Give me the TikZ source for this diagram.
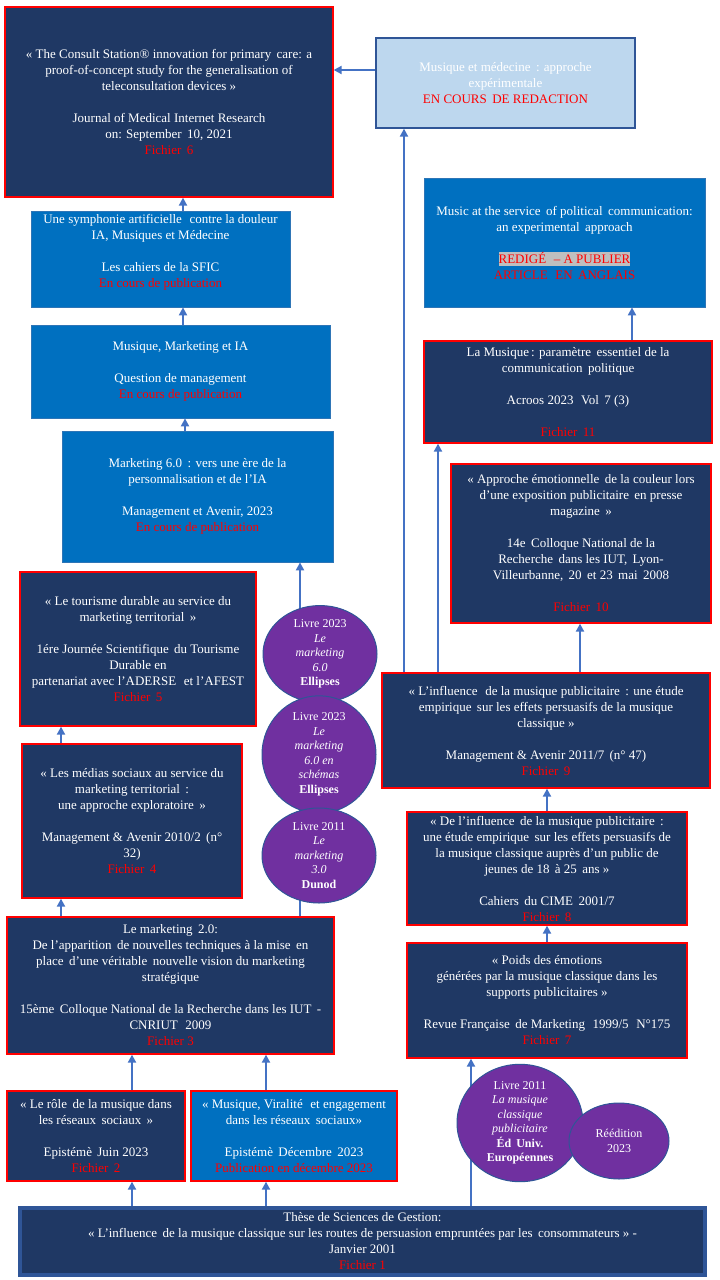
\documentclass[tikz,border=0pt]{standalone}
\usepackage{fontspec}
\setmainfont{Liberation Serif}
\usetikzlibrary{arrows.meta,shapes.geometric}
\definecolor{navy}{HTML}{1F3864}
\definecolor{midblue}{HTML}{0070C0}
\definecolor{lightblue}{HTML}{BDD7EE}
\definecolor{boxred}{HTML}{FF0000}
\definecolor{arrowblue}{HTML}{4472C4}
\definecolor{bubblepurple}{HTML}{7030A0}
\definecolor{edgeblue}{HTML}{2F5597}
\definecolor{thinblue}{HTML}{2E75B6}
\definecolor{hlgray}{HTML}{BFBFBF}
\newcommand{\redtxt}[1]{\textcolor{boxred}{#1}}
\newcommand{\hlred}[1]{{\setlength{\fboxsep}{0pt}\colorbox{hlgray}{\rule[-3pt]{0pt}{14pt}\redtxt{#1}}}}
\tikzset{
  pubbox/.style={rectangle, inner sep=0pt, align=center, text=white,
    font=\fontsize{13}{16}\selectfont},
  navybox/.style={pubbox, fill=navy, draw=boxred, line width=1.3pt},
  bluebox/.style={pubbox, fill=midblue, draw=thinblue, line width=0.8pt},
  redbluebox/.style={pubbox, fill=midblue, draw=boxred, line width=1.3pt},
  palebox/.style={pubbox, fill=lightblue, draw=edgeblue, line width=1.3pt},
  thesisbox/.style={pubbox, fill=navy, draw=edgeblue, line width=3.5pt},
  bubble/.style={ellipse, inner sep=0pt, fill=bubblepurple, draw=edgeblue,
    line width=1pt, text=white, align=center, font=\fontsize{12}{14.5}\selectfont},
  arr/.style={draw=arrowblue, line width=2.2pt, -{Triangle[length=8pt,width=8pt]}},
  plainline/.style={draw=arrowblue, line width=2.2pt},
}
\begin{document}
\begin{tikzpicture}[x=1pt,y=-1pt]
\useasboundingbox (0,0) rectangle (720,1280);
\fill[white] (0,0) rectangle (720,1280);

% ---------- boxes ----------
\node[navybox, minimum width=328pt, minimum height=190pt] (A) at (169,102)
 {« The Consult Station® innovation for primary\, care: a\\
  proof-of-concept study for the generalisation of\\
  teleconsultation devices »\\[16pt]
  Journal of Medical Internet Research\\
  on: September\, 10, 2021\\
  \redtxt{Fichier\, 6}};

\node[palebox, minimum width=259pt, minimum height=90pt] (B) at (505.5,83)
 {Musique et médecine\, : approche\\
  expérimentale\\
  \redtxt{EN COURS\, DE REDACTION}};

\node[bluebox, minimum width=259pt, minimum height=96pt] (C) at (160.5,259)
 {Une symphonie artificielle\,\, contre la douleur\\
  IA, Musiques et Médecine\\[16pt]
  Les cahiers de la SFIC\\
  \redtxt{En cours de publication}\\
  ~};

\node[bluebox, minimum width=299pt, minimum height=93pt] (D) at (180.5,371.5)
 {Musique, Marketing et IA\\[16pt]
  Question de management\\
  \redtxt{En cours de publication}};

\node[bluebox, minimum width=271pt, minimum height=131pt] (E) at (197.5,496.5)
 {Marketing 6.0\, : vers une ère de la\\
  personnalisation et de l’IA\\[16pt]
  Management et Avenir, 2023\\
  \redtxt{En cours de publication}};

\node[navybox, minimum width=236pt, minimum height=154pt] (G) at (138,649)
 {« Le tourisme durable au service du\\
  marketing territorial\, »\\[16pt]
  1ére Journée Scientifique\, du Tourisme\\
  Durable en\\
  partenariat avec l’ADERSE\,\, et l’AFEST\\
  \redtxt{Fichier\, 5}};

\node[navybox, minimum width=220pt, minimum height=154pt] (H) at (132,821)
 {« Les médias sociaux au service du\\
  marketing territorial\, :\\
  une approche exploratoire\, »\\[16pt]
  Management \& Avenir 2010/2\, (n°\\
  32)\\
  \redtxt{Fichier\, 4}};

\node[navybox, minimum width=327pt, minimum height=137pt] (F) at (170.5,985.5)
 {Le marketing\, 2.0:\\
  De l’apparition\, de nouvelles techniques à la mise\, en\\
  place\, d’une véritable\, nouvelle vision du marketing\\
  stratégique\\[16pt]
  15ème\, Colloque National de la Recherche dans les IUT\, -\\
  CNRIUT\,\, 2009\\
  \redtxt{Fichier 3}};

\node[navybox, minimum width=178pt, minimum height=90pt] (I) at (96,1136)
 {« Le rôle\, de la musique dans\\
  les réseaux\, sociaux\, »\\[16pt]
  Epistémè\, Juin 2023\\
  \redtxt{Fichier\, 2}};

\node[redbluebox, minimum width=206pt, minimum height=90pt] (J) at (294,1136)
 {« Musique, Viralité\,\, et engagement\\
  dans les réseaux\, sociaux»\\[16pt]
  Epistémè\, Décembre\, 2023\\
  \redtxt{Publication en décembre 2023}};

\node[thesisbox, minimum width=685pt, minimum height=67pt] (K) at (362.5,1241.5)
 {Thèse de Sciences de Gestion:\\
  « L’influence\, de la musique classique sur les routes de persuasion empruntées par les\, consommateurs » -\\
  Janvier 2001\\
  \redtxt{Fichier 1}};

\node[bluebox, minimum width=281pt, minimum height=129pt] (M) at (564.5,242.5)
 {Music at the service\, of political\, communication:\\
  an experimental\, approach\\[16pt]
  \hlred{REDIGÉ\,\, – A PUBLIER}\\
  \redtxt{ARTICLE\,\, EN\, ANGLAIS}};

\node[navybox, minimum width=288pt, minimum height=102pt] (N) at (568,392)
 {La Musique\,: paramètre\, essentiel de la\\
  communication\, politique\\[16pt]
  Acroos 2023\,\, Vol\, 7 (3)\\[16pt]
  \redtxt{Fichier\, 11}};

\node[navybox, minimum width=260pt, minimum height=159pt] (P) at (581,543.5)
 {« Approche émotionnelle\, de la couleur lors\\
  d’une exposition publicitaire\, en presse\\
  magazine\, »\\[16pt]
  14e\, Colloque National de la\\
  Recherche\, dans les IUT,\, Lyon-\\
  Villeurbanne,\, 20\, et 23\, mai\, 2008\\[16pt]
  \redtxt{Fichier\, 10}};

\node[navybox, minimum width=328pt, minimum height=115pt] (O) at (546,730.5)
 {« L'influence\,\, de la musique publicitaire\, : une étude\\
  empirique\, sur les effets persuasifs de la musique\\
  classique »\\[16pt]
  Management \& Avenir 2011/7\, (n° 47)\\
  \redtxt{Fichier\, 9}};

\node[navybox, minimum width=280pt, minimum height=113pt] (Q) at (547,868.5)
 {« De l’influence\, de la musique publicitaire\, :\\
  une étude empirique\, sur les effets persuasifs de\\
  la musique classique auprès d'un public de\\
  jeunes de 18\, à 25\, ans »\\[16pt]
  Cahiers\, du CIME\, 2001/7\\
  \redtxt{Fichier\, 8}};

\node[navybox, minimum width=280pt, minimum height=115pt] (L) at (547,1000.5)
 {« Poids des émotions\\
  générées par la musique classique dans les\\
  supports publicitaires »\\[16pt]
  Revue Française\, de Marketing\,\, 1999/5\,\, N°175\\
  \redtxt{Fichier\, 7}};

% ---------- connector positions ----------
\coordinate (yBA) at (0,70);
\coordinate (x61) at (61,0);
\coordinate (x132) at (132,0);
\coordinate (x183) at (183,0);
\coordinate (x185) at (185,0);
\coordinate (x266) at (266,0);
\coordinate (x300) at (300,0);
\coordinate (x404) at (404,0);
\coordinate (x438) at (438,0);
\coordinate (x471) at (471,0);
\coordinate (x547) at (547,0);
\coordinate (x580) at (580,0);
\coordinate (x632) at (632,0);

% ---------- connectors ----------
\draw[arr] (B.west |- yBA) -- (A.east |- yBA);
\draw[arr] (C.north -| x183) -- (A.south -| x183);
\draw[arr] (D.north -| x183) -- (C.south -| x183);
\draw[arr] (E.north -| x185) -- (D.south -| x185);
\draw[arr] (F.north -| x300) -- (E.south -| x300);
\draw[arr] (H.north -| x61) -- (G.south -| x61);
\draw[arr] (F.north -| x61) -- (H.south -| x61);
\draw[arr] (I.north -| x132) -- (F.south -| x132);
\draw[arr] (J.north -| x266) -- (F.south -| x266);
\draw[arr] (K.north -| x132) -- (I.south -| x132);
\draw[arr] (K.north -| x266) -- (J.south -| x266);
\draw[arr] (K.north -| x471) -- (L.south -| x471);
\draw[arr] (L.north -| x547) -- (Q.south -| x547);
\draw[arr] (Q.north -| x547) -- (O.south -| x547);
\draw[arr] (O.north -| x580) -- (P.south -| x580);
\draw[arr] (O.north -| x438) -- (N.south -| x438);
\draw[arr] (O.north -| x404) -- (B.south -| x404);
\draw[arr] (N.north -| x632) -- (M.south -| x632);

% ---------- books ----------
\node[bubble, minimum width=114pt, minimum height=92pt] (E1) at (320,654)
 {Livre 2023\\ \textit{Le}\\ \textit{marketing}\\ \textit{6.0}\\ \textbf{Ellipses}};
\node[bubble, minimum width=114pt, minimum height=95pt] (E2) at (319,754.5)
 {Livre 2023\\ \textit{Le}\\ \textit{marketing}\\ \textit{6.0 en}\\ \textit{schémas}\\ \textbf{Ellipses}};
\node[bubble, minimum width=114pt, minimum height=95pt] (E3) at (319,855.5)
 {Livre 2011\\ \textit{Le}\\ \textit{marketing}\\ \textit{3.0}\\ \textbf{Dunod}};
\node[bubble, minimum width=126pt, minimum height=98pt] (E4) at (520,1123)
 {Livre 2011\\ \textit{La musique}\\ \textit{classique}\\ \textit{publicitaire}\\ \textbf{Éd\, Univ.}\\ \textbf{Européennes}};
\node[bubble, minimum width=100pt, minimum height=76pt] (E5) at (619,1141)
 {Réédition\\ 2023};
\end{tikzpicture}
\end{document}
